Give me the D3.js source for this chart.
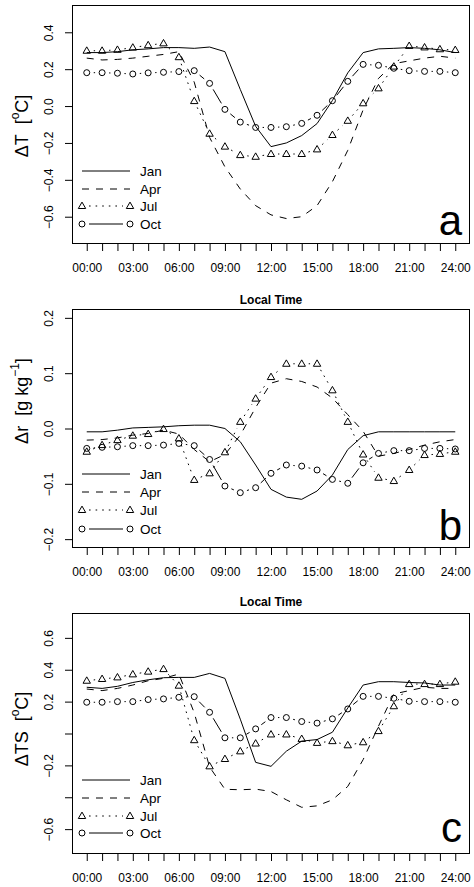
<!DOCTYPE html>
<html><head><meta charset="utf-8">
<script src="https://cdn.jsdelivr.net/npm/d3@7"></script>
<style>
body{margin:0;background:#fff}
svg{display:block}
text{font-family:"Liberation Sans",Arial,Helvetica,sans-serif;fill:#000}
</style>
</head><body>
<svg id="chart" width="474" height="887"></svg>
<script>
// ---------- DATA ----------
const hours = [0,1,2,3,4,5,6,7,8,9,10,11,12,13,14,15,16,17,18,19,20,21,22,23,24];
const xTickLabels = ["00:00","03:00","06:00","09:00","12:00","15:00","18:00","21:00","24:00"];
const seriesNames = ["Jan","Apr","Jul","Oct"];
const xTitle = "Local Time";

// Panel a : ΔT
const janA = [0.29,0.29,0.295,0.305,0.31,0.317,0.317,0.313,0.32,0.295,0.09,-0.11,-0.22,-0.20,-0.16,-0.095,0.03,0.18,0.29,0.31,0.313,0.317,0.313,0.305,0.29];
const aprA = [0.26,0.25,0.253,0.26,0.27,0.28,0.295,0.13,-0.17,-0.33,-0.45,-0.54,-0.59,-0.61,-0.60,-0.54,-0.41,-0.24,-0.02,0.15,0.23,0.245,0.26,0.27,0.26];
const julA = [0.30,0.30,0.305,0.317,0.33,0.34,0.265,0.027,-0.15,-0.22,-0.266,-0.275,-0.26,-0.26,-0.26,-0.235,-0.157,-0.08,0.015,0.096,0.214,0.326,0.318,0.308,0.304];
const octA = [0.181,0.181,0.178,0.174,0.18,0.183,0.187,0.192,0.123,-0.018,-0.087,-0.116,-0.116,-0.112,-0.094,-0.05,0.029,0.134,0.226,0.221,0.205,0.192,0.188,0.188,0.181];
const yTicksA = [-0.6,-0.4,-0.2,0.0,0.2,0.4];
const yTickLabelsA = ["\u22120.6","\u22120.4","\u22120.2","0.0","0.2","0.4"];

// Panel b : Δr
const janB = [-0.006,-0.006,-0.003,0.001,0.002,0.003,0.005,0.006,0.006,0.0,-0.024,-0.066,-0.11,-0.124,-0.128,-0.113,-0.084,-0.038,-0.013,-0.006,-0.006,-0.006,-0.006,-0.006,-0.006];
const aprB = [-0.021,-0.02,-0.017,-0.012,-0.009,-0.003,-0.01,-0.038,-0.06,-0.047,-0.012,0.038,0.082,0.09,0.085,0.075,0.055,0.025,-0.005,-0.05,-0.045,-0.038,-0.03,-0.024,-0.02];
const julB = [-0.042,-0.03,-0.021,-0.013,-0.01,-0.001,-0.018,-0.093,-0.081,-0.043,0.012,0.054,0.093,0.117,0.117,0.117,0.069,0.012,-0.047,-0.089,-0.095,-0.075,-0.048,-0.046,-0.042];
const octB = [-0.036,-0.034,-0.033,-0.031,-0.031,-0.03,-0.027,-0.031,-0.056,-0.104,-0.116,-0.107,-0.081,-0.066,-0.068,-0.075,-0.092,-0.099,-0.062,-0.045,-0.040,-0.040,-0.036,-0.036,-0.037];
const yTicksB = [-0.2,-0.1,0.0,0.1,0.2];
const yTickLabelsB = ["\u22120.2","\u22120.1","0.0","0.1","0.2"];

// Panel c : ΔTS
const janC = [0.29,0.283,0.296,0.32,0.337,0.35,0.352,0.352,0.377,0.346,0.09,-0.181,-0.206,-0.111,-0.048,-0.038,0.008,0.16,0.304,0.325,0.325,0.32,0.317,0.304,0.304];
const aprC = [0.279,0.269,0.283,0.304,0.331,0.346,0.373,0.13,-0.21,-0.35,-0.353,-0.349,-0.364,-0.416,-0.463,-0.454,-0.416,-0.332,-0.164,0.046,0.248,0.269,0.29,0.283,0.283];
const julC = [0.331,0.342,0.352,0.371,0.388,0.404,0.3,-0.042,-0.206,-0.16,-0.112,-0.063,-0.006,-0.006,-0.034,-0.059,-0.048,-0.074,-0.055,0.015,0.171,0.31,0.31,0.31,0.325];
const octC = [0.196,0.196,0.2,0.2,0.213,0.217,0.227,0.231,0.133,-0.027,-0.027,0.029,0.1,0.1,0.075,0.065,0.092,0.154,0.233,0.233,0.221,0.202,0.2,0.2,0.196];
const yTicksC = [-0.6,-0.4,-0.2,0.0,0.2,0.4,0.6];
const yTickLabelsC = ["\u22120.6","","\u22120.2","","0.2","0.4","0.6"];

// ---------- DRAW ----------
const svg = d3.select("#chart");
const L = 72, R = 470;
const x = d3.scaleLinear().domain([-0.96, 24.96]).range([L, R]);
const GAP = 7;

function triPath(cx, cy){
  return `M${cx},${cy-3.9}L${cx+3.7},${cy+2.5}L${cx-3.7},${cy+2.5}Z`;
}
function gappedSegments(g, pts, dash){
  for (let i=0;i<pts.length-1;i++){
    const [x0,y0]=pts[i],[x1,y1]=pts[i+1];
    const dx=x1-x0, dy=y1-y0, len=Math.hypot(dx,dy);
    if (len <= 2*GAP) continue;
    const ux=dx/len, uy=dy/len;
    const ln = g.append("line")
      .attr("x1",x0+ux*GAP).attr("y1",y0+uy*GAP)
      .attr("x2",x1-ux*GAP).attr("y2",y1-uy*GAP)
      .attr("stroke","#000").attr("stroke-width",1);
    if (dash) ln.attr("stroke-dasharray",dash);
  }
}
const DASH = "7,7", DOT = "1.6,5";

function panel(cfg){
  const y = d3.scaleLinear().domain(cfg.ydom).range([cfg.bottom, cfg.top]);
  const g = svg.append("g");

  // x axis
  const xa = d3.axisBottom(x).tickValues(hours).tickSize(7).tickPadding(12)
    .tickFormat(d => d % 3 === 0 ? xTickLabels[d/3] : "");
  const gx = g.append("g").attr("transform",`translate(0,${cfg.bottom})`).call(xa);
  gx.select(".domain").remove();
  gx.selectAll("text").attr("font-size",12).attr("font-family",'"Liberation Sans",Arial,sans-serif');
  gx.selectAll("line").attr("stroke","#000");

  // y axis
  const ya = d3.axisLeft(y).tickValues(cfg.yticks).tickSize(7)
    .tickFormat((d,i) => cfg.ylabels[i]);
  const gy = g.append("g").attr("transform",`translate(${L},0)`).call(ya);
  gy.select(".domain").remove();
  gy.selectAll("line").attr("stroke","#000");
  gy.selectAll("text")
    .attr("x",null).attr("dy",null)
    .attr("transform","translate(-23,0) rotate(-90)")
    .attr("text-anchor","middle").attr("dominant-baseline","central")
    .attr("font-size",12).attr("font-family",'"Liberation Sans",Arial,sans-serif');

  // box
  g.append("rect").attr("x",L+0.5).attr("y",cfg.top+0.5)
    .attr("width",R-L-1).attr("height",cfg.bottom-cfg.top-1)
    .attr("fill","none").attr("stroke","#000").attr("stroke-width",1);

  // series
  const line = d3.line().x((d,i)=>x(hours[i])).y(d=>y(d));
  g.append("path").datum(cfg.jan).attr("d",line).attr("fill","none").attr("stroke","#000").attr("stroke-width",1);
  g.append("path").datum(cfg.apr).attr("d",line).attr("fill","none").attr("stroke","#000").attr("stroke-width",1).attr("stroke-dasharray",DASH);

  const julPts = cfg.jul.map((v,i)=>[x(hours[i]), y(v)]);
  gappedSegments(g, julPts, DOT);
  g.selectAll(null).data(julPts).enter().append("path")
    .attr("d",p=>triPath(p[0],p[1])).attr("fill","none").attr("stroke","#000").attr("stroke-width",1);

  const octPts = cfg.oct.map((v,i)=>[x(hours[i]), y(v)]);
  gappedSegments(g, octPts, null);
  g.selectAll(null).data(octPts).enter().append("circle")
    .attr("cx",p=>p[0]).attr("cy",p=>p[1]).attr("r",3)
    .attr("fill","none").attr("stroke","#000").attr("stroke-width",1);

  // legend
  const lx0 = 82, lx1 = 130, ltx = 140;
  seriesNames.forEach((name,i)=>{
    const ly = cfg.legendY[i];
    if (i===0) g.append("line").attr("x1",lx0).attr("x2",lx1).attr("y1",ly).attr("y2",ly).attr("stroke","#000");
    if (i===1) g.append("line").attr("x1",lx0).attr("x2",lx1).attr("y1",ly).attr("y2",ly).attr("stroke","#000").attr("stroke-dasharray",DASH);
    if (i===2){
      gappedSegments(g, [[lx0,ly],[lx1,ly]], DOT);
      [lx0,lx1].forEach(px=>g.append("path").attr("d",triPath(px,ly)).attr("fill","none").attr("stroke","#000"));
    }
    if (i===3){
      gappedSegments(g, [[lx0,ly],[lx1,ly]], null);
      [lx0,lx1].forEach(px=>g.append("circle").attr("cx",px).attr("cy",ly).attr("r",3).attr("fill","none").attr("stroke","#000"));
    }
    g.append("text").attr("x",ltx).attr("y",ly+5).attr("font-size",13.5).text(name);
  });

  // panel letter
  g.append("text").attr("x",462).attr("y",cfg.bottom-cfg.letterOff).attr("text-anchor","end")
    .attr("font-size",42).text(cfg.letter);

  // y title
  const yt = g.append("text").attr("transform",`translate(22,${cfg.ytitleY}) rotate(-90)`)
    .attr("text-anchor","middle").attr("dominant-baseline","central").attr("font-size",18);
  cfg.ytitle(yt);

  // x title
  if (cfg.xtitleY) g.append("text").attr("x",(L+R)/2).attr("y",cfg.xtitleY)
    .attr("text-anchor","middle").attr("font-size",12).attr("font-weight","bold").text(xTitle);
}

function degTitle(prefix){
  return t=>{
    t.append("tspan").text(prefix + "\u00a0\u00a0[");
    t.append("tspan").attr("font-size",12).attr("dy",-7).text("o");
    t.append("tspan").attr("dy",7).text("C]");
  };
}

panel({top:5, bottom:244, ydom:[-0.748,0.548], yticks:yTicksA, ylabels:yTickLabelsA,
  jan:janA, apr:aprA, jul:julA, oct:octA, legendY:[171,189,206,224], letter:"a", letterOff:9,
  ytitleY:126, ytitle:degTitle("\u0394T"), xtitleY:304});

panel({top:309, bottom:548, ydom:[-0.216,0.216], yticks:yTicksB, ylabels:yTickLabelsB,
  jan:janB, apr:aprB, jul:julB, oct:octB, legendY:[474,492,510,529], letter:"b", letterOff:8,
  ytitleY:401, ytitle:t=>{
    t.append("tspan").text("\u0394r\u00a0\u00a0[g kg");
    t.append("tspan").attr("font-size",12).attr("dy",-7).text("\u22121");
    t.append("tspan").attr("dy",7).text("]");
  }, xtitleY:606});

panel({top:613, bottom:854, ydom:[-0.756,0.756], yticks:yTicksC, ylabels:yTickLabelsC,
  jan:janC, apr:aprC, jul:julC, oct:octC, legendY:[780,798,816,833], letter:"c", letterOff:12,
  ytitleY:729, ytitle:degTitle("\u0394TS"), xtitleY:null});
</script>
</body></html>
